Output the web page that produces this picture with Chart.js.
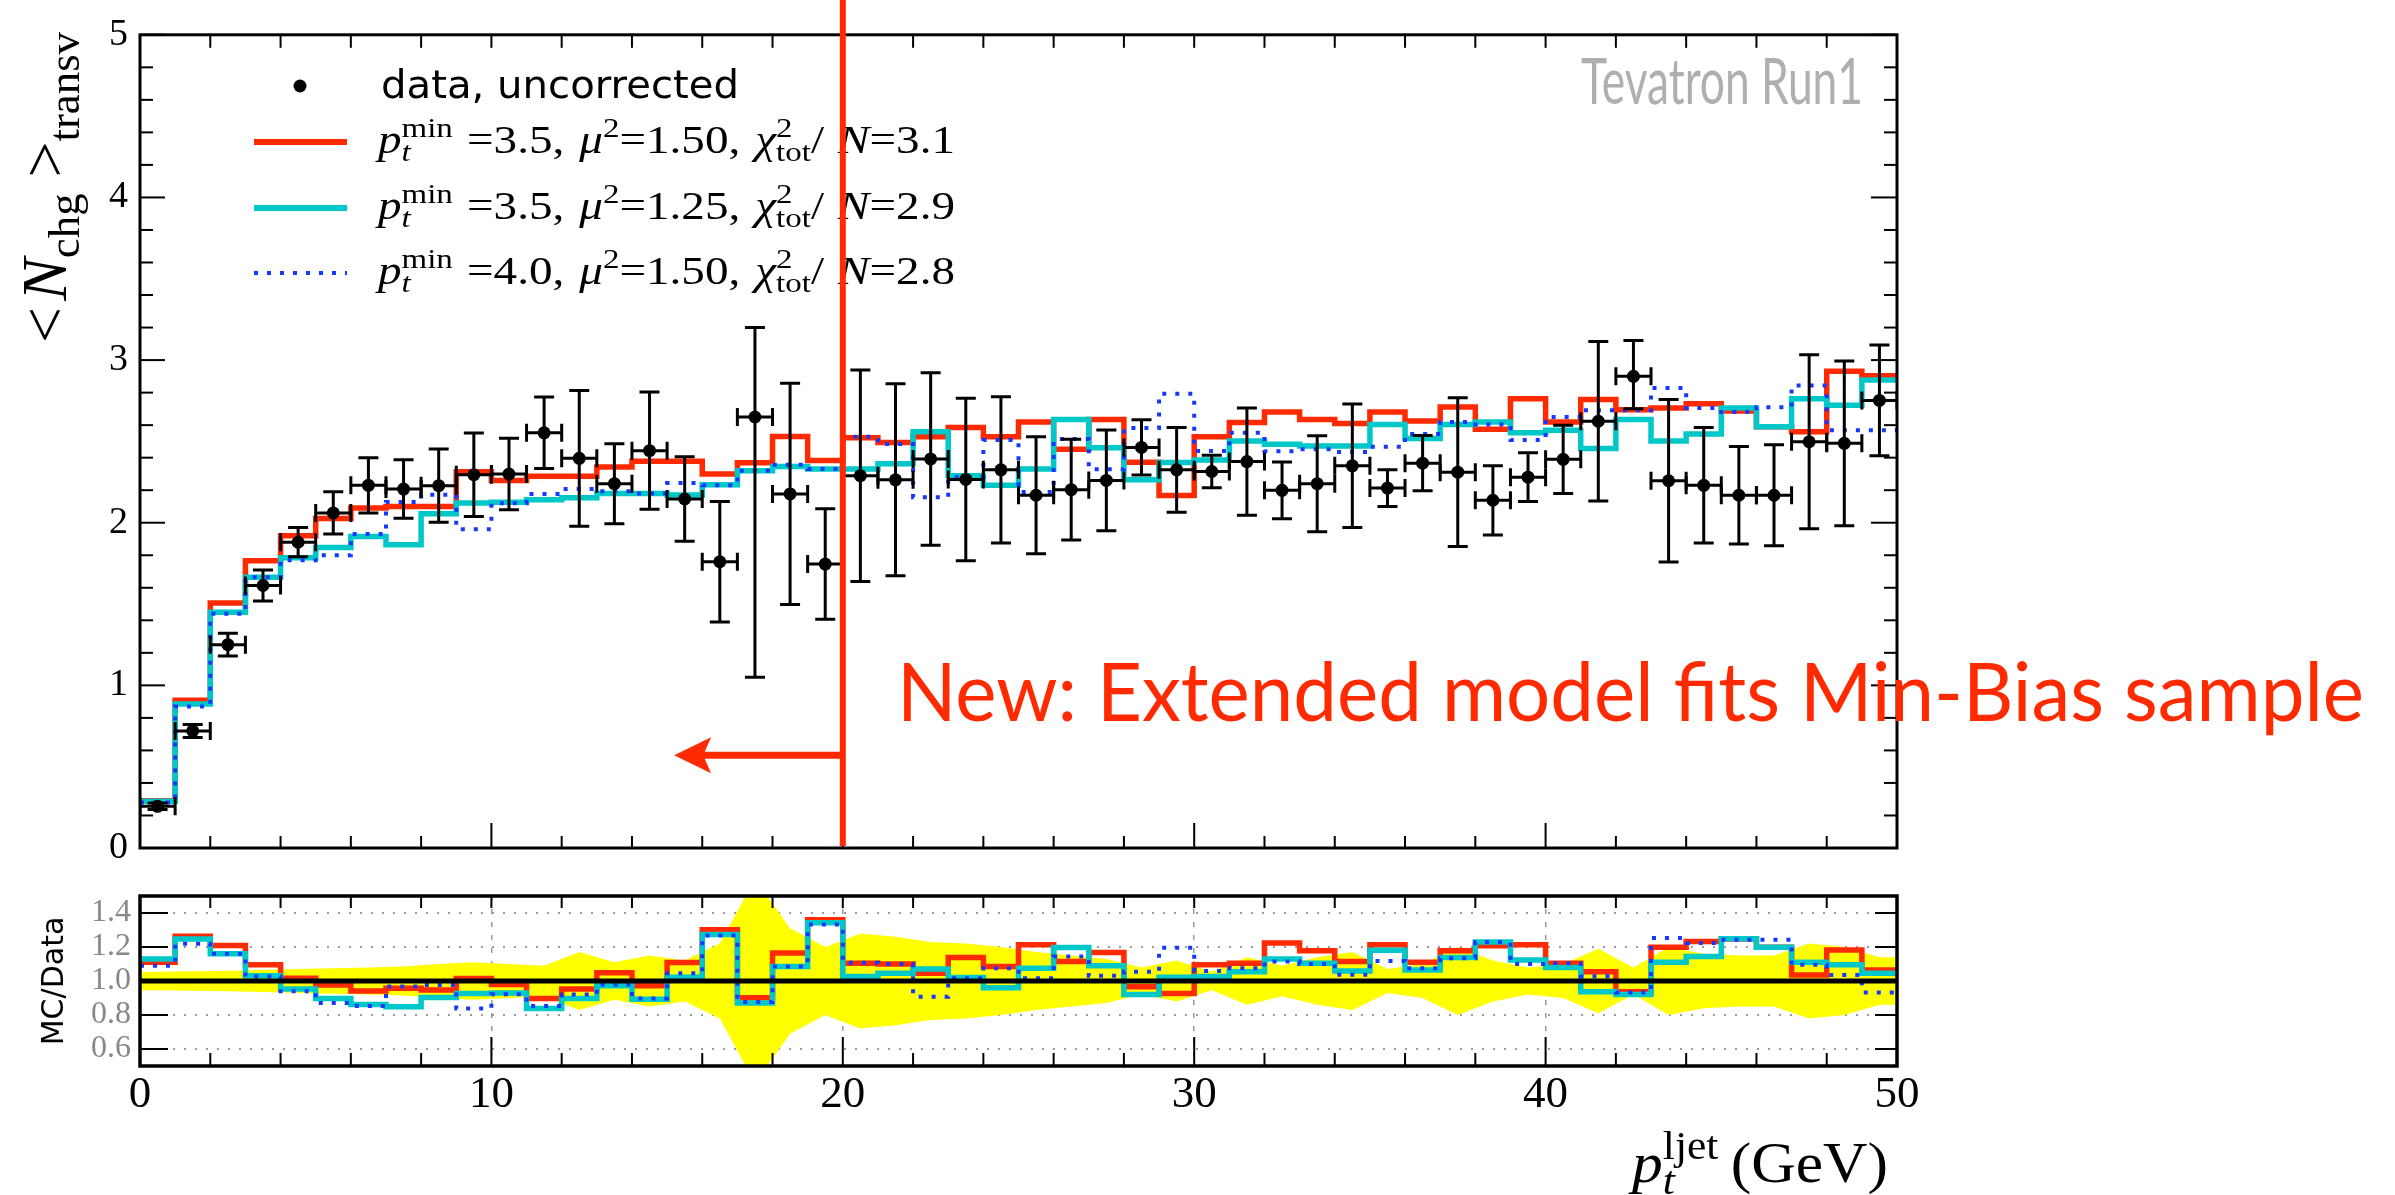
<!DOCTYPE html>
<html>
<head>
<meta charset="utf-8">
<script src="https://cdn.jsdelivr.net/npm/chart.js@4.4.1/dist/chart.umd.min.js"></script>
<style>
  html, body { margin: 0; padding: 0; background: #fff; }
  #wrap { position: relative; width: 2395px; height: 1195px; }
  canvas { position: absolute; left: 0; top: 0; }
</style>
</head>
<body>
<div id="wrap">
  <canvas id="main" width="2395" height="1195"></canvas>
  <canvas id="ratio" width="2395" height="1195"></canvas>
</div>
<script>
// ---- data ----
const binLow = [0,1,2,3,4,5,6,7,8,9,10,11,12,13,14,15,16,17,18,19,20,21,22,23,24,
  25,26,27,28,29,30,31,32,33,34,35,36,37,38,39,40,41,42,43,44,45,46,47,48,49];
const binWidth = 1;

const dataY = [0.256,0.72,1.25,1.614,1.88,2.06,2.23,2.207,2.228,2.295,
  2.299,2.553,2.396,2.24,2.443,2.146,1.76,2.65,2.177,1.746,
  2.289,2.264,2.392,2.266,2.325,2.169,2.203,2.26,2.463,2.325,
  2.315,2.376,2.199,2.24,2.35,2.213,2.366,2.311,2.138,2.28,
  2.39,2.624,2.9,2.258,2.23,2.169,2.169,2.498,2.488,2.752];
const errUp = [0.02,0.04,0.07,0.096,0.09,0.13,0.17,0.18,0.225,0.256,
  0.22,0.22,0.417,0.246,0.36,0.26,0.37,0.55,0.68,0.34,
  0.65,0.59,0.53,0.5,0.45,0.36,0.31,0.31,0.17,0.26,
  0.1,0.33,0.175,0.295,0.38,0.113,0.17,0.457,0.213,0.15,
  0.21,0.49,0.22,0.5,0.355,0.3,0.31,0.535,0.506,0.34];
const errDown = [0.02,0.04,0.07,0.096,0.09,0.13,0.17,0.18,0.225,0.256,
  0.22,0.22,0.417,0.246,0.36,0.26,0.37,1.6,0.68,0.34,
  0.65,0.59,0.53,0.5,0.45,0.36,0.31,0.31,0.17,0.26,
  0.1,0.33,0.175,0.295,0.38,0.113,0.17,0.457,0.213,0.15,
  0.21,0.49,0.2,0.5,0.355,0.3,0.31,0.535,0.506,0.34];

const mcRed = [0.29,0.908,1.506,1.766,1.92,2.026,2.091,2.1,2.1,2.314,
  2.26,2.286,2.286,2.343,2.378,2.378,2.3,2.368,2.53,2.382,
  2.522,2.494,2.528,2.585,2.528,2.62,2.451,2.634,2.372,2.167,
  2.528,2.616,2.681,2.634,2.61,2.681,2.626,2.711,2.575,2.762,
  2.62,2.758,2.695,2.705,2.732,2.687,2.59,2.559,2.931,2.904];
const mcCyan = [0.288,0.886,1.449,1.665,1.785,1.848,1.915,1.864,2.055,2.122,
  2.126,2.142,2.154,2.179,2.179,2.171,2.234,2.319,2.345,2.331,
  2.331,2.362,2.559,2.289,2.23,2.33,2.634,2.461,2.264,2.37,
  2.386,2.502,2.482,2.472,2.472,2.604,2.518,2.604,2.62,2.553,
  2.569,2.457,2.634,2.502,2.545,2.705,2.59,2.762,2.722,2.878];
const mcBlue = [0.28,0.87,1.44,1.665,1.77,1.8,1.93,2.127,2.172,1.96,
  2.12,2.177,2.207,2.193,2.179,2.244,2.23,2.319,2.356,2.33,
  2.528,2.484,2.156,2.28,2.508,2.189,2.514,2.329,2.583,2.793,
  2.441,2.553,2.44,2.451,2.435,2.467,2.545,2.62,2.604,2.508,
  2.65,2.691,2.691,2.829,2.705,2.68,2.71,2.844,2.569,2.569];

const ratioRed = [1.11,1.263,1.209,1.095,1.016,0.976,0.941,0.957,0.947,1.014,
  0.98,0.897,0.953,1.049,0.972,1.109,1.302,0.901,1.164,1.361,
  1.104,1.1,1.045,1.138,1.085,1.213,1.115,1.168,0.966,0.927,
  1.095,1.104,1.223,1.178,1.115,1.213,1.111,1.178,1.207,1.213,
  1.104,1.055,0.937,1.199,1.233,1.247,1.199,1.036,1.183,1.065];
const ratioCyan = [1.13,1.247,1.16,1.031,0.953,0.897,0.862,0.848,0.903,0.927,
  0.93,0.838,0.897,0.972,0.893,1.022,1.273,0.871,1.085,1.342,
  1.026,1.045,1.071,1.02,0.96,1.075,1.197,1.089,0.92,1.022,
  1.026,1.055,1.13,1.104,1.059,1.181,1.065,1.138,1.229,1.124,
  1.079,0.937,0.92,1.111,1.144,1.249,1.199,1.111,1.095,1.045];
const ratioBlue = [1.09,1.219,1.16,1.026,0.94,0.87,0.853,0.968,0.977,0.838,
  0.922,0.853,0.92,0.98,0.897,1.045,1.267,0.877,1.085,1.332,
  1.108,1.1,0.907,1.016,1.075,1.016,1.144,1.031,1.055,1.195,
  1.059,1.075,1.115,1.1,1.037,1.118,1.075,1.134,1.229,1.1,
  1.104,1.028,0.933,1.253,1.223,1.243,1.243,1.095,1.036,0.933];
// half width of the yellow data-uncertainty band in the ratio panel
const band = [0.055,0.058,0.06,0.065,0.07,0.075,0.08,0.085,0.1,0.11,
  0.1,0.09,0.17,0.11,0.15,0.12,0.22,0.6,0.31,0.2,
  0.28,0.26,0.23,0.22,0.2,0.17,0.15,0.13,0.08,0.12,
  0.055,0.14,0.09,0.14,0.17,0.07,0.1,0.2,0.12,0.08,
  0.1,0.19,0.08,0.2,0.16,0.15,0.15,0.22,0.2,0.14];

const xTicks = [0,10,20,30,40,50];
const yMainTicks = [0,1,2,3,4,5];
const yRatioTicks = [0.6,0.8,1.0,1.2,1.4];

const legendRows = [
  { pt: '3.5', mu: '1.50', chi: '3.1' },
  { pt: '3.5', mu: '1.25', chi: '2.9' },
  { pt: '4.0', mu: '1.50', chi: '2.8' },
];
const cutX = 20;       // red cut line
const arrowTipX = 15.2;
const arrowY = 0.57;

// ---- styles ----
const RED = '#ff2a00';
const CYAN = '#00c8c8';
const BLUE = '#1438ff';
const YELLOW = '#ffff00';
const GRID = '#9a9a9a';
const SERIF = '"Liberation Serif", "DejaVu Serif", serif';
const SANS = '"DejaVu Sans", "Liberation Sans", sans-serif';
const GILL = 'Lato, "Open Sans", sans-serif';
const DOTS = [4, 9];

function stepPoints(vals) {
  const pts = binLow.map((x, i) => ({ x, y: vals[i] }));
  pts.push({ x: binLow[binLow.length - 1] + binWidth, y: vals[vals.length - 1] });
  return pts;
}

function stepSet(vals, color, width, dash) {
  return {
    data: stepPoints(vals),
    stepped: true,
    borderColor: color,
    borderWidth: width,
    borderDash: dash || [],
    borderCapStyle: 'butt',
    borderJoinStyle: 'miter',
    pointRadius: 0,
    fill: false,
  };
}

function seg(ctx, x0, y0, x1, y1) {
  ctx.beginPath();
  ctx.moveTo(x0, y0);
  ctx.lineTo(x1, y1);
  ctx.stroke();
}

// text squeezed or stretched to a given width
function fitText(ctx, text, x, y, width, font, color) {
  ctx.font = font;
  ctx.fillStyle = color;
  const w = ctx.measureText(text).width;
  ctx.save();
  ctx.translate(x, y);
  ctx.scale(width / w, 1);
  ctx.fillText(text, 0, 0);
  ctx.restore();
}

// little math-ish text: italics, sub and superscripts, optionally fitted to a width
function drawRich(ctx, x, y, parts, size, family, width) {
  const items = [];
  let cx = 0, lastX = 0;
  for (const p of parts) {
    const small = p.sup || p.sub;
    const sz = small ? Math.round(size * 0.7) : size;
    const font = (p.it ? 'italic ' : '') + sz + 'px ' + family;
    ctx.font = font;
    const w = ctx.measureText(p.t).width;
    const dy = p.sup ? -0.4 * size : p.sub ? 0.2 * size : 0;
    if (p.stack) {
      items.push({ t: p.t, font, x: lastX, dy });
      cx = Math.max(cx, lastX + w);
      continue;
    }
    cx += (p.gap || 0) * size;
    items.push({ t: p.t, font, x: cx, dy });
    lastX = cx;
    cx += w;
  }
  const sx = width ? width / cx : 1;
  ctx.save();
  ctx.translate(x, y);
  ctx.scale(sx, 1);
  items.forEach(it => {
    ctx.font = it.font;
    ctx.fillText(it.t, it.x, it.dy);
  });
  ctx.restore();
}

function mathLabel(row) {
  return [
    { t: 'p', it: 1 }, { t: 'min', sup: 1 }, { t: 't', it: 1, sub: 1, stack: 1 },
    { t: '=', gap: 0.3 }, { t: row.pt + ',' },
    { t: 'μ', it: 1, gap: 0.32 }, { t: '2', sup: 1 }, { t: '=' }, { t: row.mu + ',' },
    { t: 'χ', it: 1, gap: 0.32 }, { t: '2', sup: 1 }, { t: 'tot', sub: 1, stack: 1 }, { t: '/' },
    { t: 'N', it: 1, gap: 0.3 }, { t: '=' }, { t: row.chi },
  ];
}

const mainDecor = {
  id: 'mainDecor',
  afterDatasetsDraw(chart) {
    const { ctx, chartArea: a, scales: { x, y } } = chart;
    ctx.save();
    ctx.beginPath();
    ctx.rect(a.left, a.top, a.right - a.left, a.bottom - a.top);
    ctx.clip();
    ctx.strokeStyle = '#000';
    ctx.lineWidth = 3;
    binLow.forEach((lo, i) => {
      const cx = x.getPixelForValue(lo + binWidth / 2);
      const x0 = x.getPixelForValue(lo);
      const x1 = x.getPixelForValue(lo + binWidth);
      const yc = y.getPixelForValue(dataY[i]);
      const yt = y.getPixelForValue(dataY[i] + errUp[i]);
      const yb = y.getPixelForValue(dataY[i] - errDown[i]);
      seg(ctx, cx, yt, cx, yb);
      seg(ctx, cx - 10, yt, cx + 10, yt);
      seg(ctx, cx - 10, yb, cx + 10, yb);
      seg(ctx, x0, yc, x1, yc);
      seg(ctx, x0, yc - 9, x0, yc + 9);
      seg(ctx, x1, yc - 9, x1, yc + 9);
    });
    ctx.restore();
  },
  afterDraw(chart) {
    const { ctx, chartArea: a, scales: { x, y } } = chart;
    ctx.save();
    ctx.strokeStyle = '#000';
    ctx.lineWidth = 3;
    ctx.strokeRect(a.left, a.top, a.right - a.left, a.bottom - a.top);
    ctx.lineWidth = 2;
    for (let v = 0; v <= 50; v += 2) {
      const px = x.getPixelForValue(v);
      seg(ctx, px, a.bottom, px, a.bottom - (v % 10 === 0 ? 25 : 12));
      seg(ctx, px, a.top, px, a.top + 13);
    }
    for (let k = 0; k <= 25; k++) {
      const py = y.getPixelForValue(k * 0.2);
      const major = k % 5 === 0;
      seg(ctx, a.left, py, a.left + (major ? 25 : 13), py);
      seg(ctx, a.right, py, a.right - (major ? 26 : 13), py);
    }

    // legend
    ctx.fillStyle = '#000';
    ctx.beginPath();
    ctx.arc(300, 86, 6.5, 0, Math.PI * 2);
    ctx.fill();
    fitText(ctx, 'data, uncorrected', 381, 98, 358, '39px ' + SANS, '#000');
    const sample = [
      { color: RED, w: 6, dash: [], y: 142 },
      { color: CYAN, w: 6, dash: [], y: 208 },
      { color: BLUE, w: 4, dash: DOTS, y: 273 },
    ];
    ctx.textBaseline = 'alphabetic';
    sample.forEach((s, i) => {
      ctx.strokeStyle = s.color;
      ctx.lineWidth = s.w;
      ctx.setLineDash(s.dash);
      seg(ctx, 254, s.y, 347, s.y);
      ctx.setLineDash([]);
      ctx.fillStyle = '#000';
      drawRich(ctx, 378, s.y + 11, mathLabel(legendRows[i]), 40, SERIF, 577);
    });

    fitText(ctx, 'Tevatron Run1', 1581, 104, 282, '64px ' + GILL, '#afafaf');

    // y axis title
    ctx.save();
    ctx.translate(66, 343);
    ctx.rotate(-Math.PI / 2);
    ctx.fillStyle = '#000';
    drawRich(ctx, 0, 0, [
      { t: '<' }, { t: 'N', it: 1, gap: 0.1 }, { t: 'chg', sub: 1 }, { t: ' >' }, { t: 'transv', sub: 1 },
    ], 64, SERIF, 311);
    ctx.restore();

    // cut annotation
    const cx = x.getPixelForValue(cutX);
    ctx.strokeStyle = RED;
    ctx.fillStyle = RED;
    ctx.lineWidth = 6;
    seg(ctx, cx, 0, cx, y.getPixelForValue(0) - 2);
    const ay = y.getPixelForValue(arrowY);
    const tip = x.getPixelForValue(arrowTipX);
    ctx.lineWidth = 7;
    seg(ctx, tip + 25, ay, cx, ay);
    ctx.beginPath();
    ctx.moveTo(tip, ay);
    ctx.lineTo(tip + 37, ay - 18);
    ctx.lineTo(tip + 29, ay);
    ctx.lineTo(tip + 37, ay + 18);
    ctx.closePath();
    ctx.fill();
    fitText(ctx, 'New: Extended model fits Min-Bias sample', 897, 721, 1467, '82px ' + GILL, RED);
    ctx.restore();
  },
};

const ratioDecor = {
  id: 'ratioDecor',
  afterDraw(chart) {
    const { ctx, chartArea: a, scales: { x, y } } = chart;
    ctx.save();
    ctx.strokeStyle = '#000';
    ctx.lineWidth = 3.5;
    ctx.strokeRect(a.left, a.top, a.right - a.left, a.bottom - a.top);
    ctx.lineWidth = 2;
    for (let v = 0; v <= 50; v += 2) {
      const px = x.getPixelForValue(v);
      seg(ctx, px, a.bottom, px, a.bottom - (v % 10 === 0 ? 29 : 13));
      seg(ctx, px, a.top, px, a.top + 12);
    }
    yRatioTicks.forEach(v => {
      const py = y.getPixelForValue(v);
      seg(ctx, a.left, py, a.left + 28, py);
      seg(ctx, a.right, py, a.right - 22, py);
    });

    ctx.fillStyle = '#000';
    ctx.save();
    ctx.translate(63, y.getPixelForValue(1));
    ctx.rotate(-Math.PI / 2);
    ctx.textAlign = 'center';
    ctx.font = '30px ' + SANS;
    ctx.fillText('MC/Data', 0, 0);
    ctx.restore();

    drawRich(ctx, 1632, 1182, [
      { t: 'p', it: 1 }, { t: 'ljet', sup: 1 }, { t: 't', it: 1, sub: 1, stack: 1 }, { t: '(GeV)', gap: 0.2 },
    ], 58, SERIF, 256);
    ctx.restore();
  },
};

const mainChart = new Chart(document.getElementById('main'), {
  type: 'line',
  data: {
    datasets: [
      {
        data: binLow.map((lo, i) => ({ x: lo + binWidth / 2, y: dataY[i] })),
        showLine: false,
        pointRadius: 6.5,
        pointBackgroundColor: '#000',
        pointBorderWidth: 0,
      },
      stepSet(mcBlue, BLUE, 4, DOTS),
      stepSet(mcCyan, CYAN, 5.5),
      stepSet(mcRed, RED, 5.5),
    ],
  },
  options: {
    responsive: false,
    animation: false,
    devicePixelRatio: 1,
    layout: { padding: { left: 0, top: 28, right: 498, bottom: 347 } },
    plugins: { legend: { display: false }, tooltip: { enabled: false } },
    scales: {
      x: { type: 'linear', min: 0, max: 50, display: false },
      y: {
        type: 'linear', min: 0, max: 5,
        afterFit: s => { s.width = 140; },
        afterBuildTicks: s => { s.ticks = yMainTicks.map(v => ({ value: v })); },
        grid: { display: false, drawTicks: false },
        border: { display: false },
        ticks: { color: '#000', padding: 12, font: { family: SERIF, size: 38 } },
      },
    },
  },
  plugins: [mainDecor],
});

const bandX = [0].concat(binLow.map(lo => lo + binWidth / 2), [50]);
const bandVals = [band[0]].concat(band, [band[band.length - 1]]);

const ratioChart = new Chart(document.getElementById('ratio'), {
  type: 'line',
  data: {
    datasets: [
      {
        data: [{ x: 0, y: 1 }, { x: 50, y: 1 }],
        borderColor: '#000', borderWidth: 5, pointRadius: 0, fill: false,
      },
      stepSet(ratioBlue, BLUE, 4, DOTS),
      stepSet(ratioCyan, CYAN, 5.5),
      stepSet(ratioRed, RED, 5.5),
      {
        data: bandX.map((x, i) => ({ x, y: 1 + bandVals[i] })),
        borderWidth: 0, pointRadius: 0, backgroundColor: YELLOW, fill: '+1',
      },
      {
        data: bandX.map((x, i) => ({ x, y: 1 - bandVals[i] })),
        borderWidth: 0, pointRadius: 0, fill: false,
      },
    ],
  },
  options: {
    responsive: false,
    animation: false,
    devicePixelRatio: 1,
    layout: { padding: { left: 0, top: 896, right: 498, bottom: 69 } },
    plugins: { legend: { display: false }, tooltip: { enabled: false } },
    scales: {
      x: {
        type: 'linear', min: 0, max: 50,
        afterFit: s => { s.height = 60; },
        afterBuildTicks: s => { s.ticks = xTicks.map(v => ({ value: v })); },
        grid: {
          drawTicks: false,
          lineWidth: 1.5,
          color: c => (c.tick && c.tick.value > 0 && c.tick.value < 50) ? GRID : 'rgba(0,0,0,0)',
        },
        border: { display: false, dash: [5, 8] },
        ticks: { color: '#000', padding: 2, maxRotation: 0, font: { family: SERIF, size: 45 } },
      },
      y: {
        type: 'linear', min: 0.5, max: 1.5,
        afterFit: s => { s.width = 140; },
        afterBuildTicks: s => { s.ticks = yRatioTicks.map(v => ({ value: v })); },
        grid: { drawTicks: false, lineWidth: 2, color: GRID },
        border: { display: false, dash: [2, 9] },
        ticks: {
          color: '#888', padding: 9, font: { family: SERIF, size: 32 },
          callback: v => Number(v).toFixed(1),
        },
      },
    },
  },
  plugins: [ratioDecor],
});
</script>
</body>
</html>
